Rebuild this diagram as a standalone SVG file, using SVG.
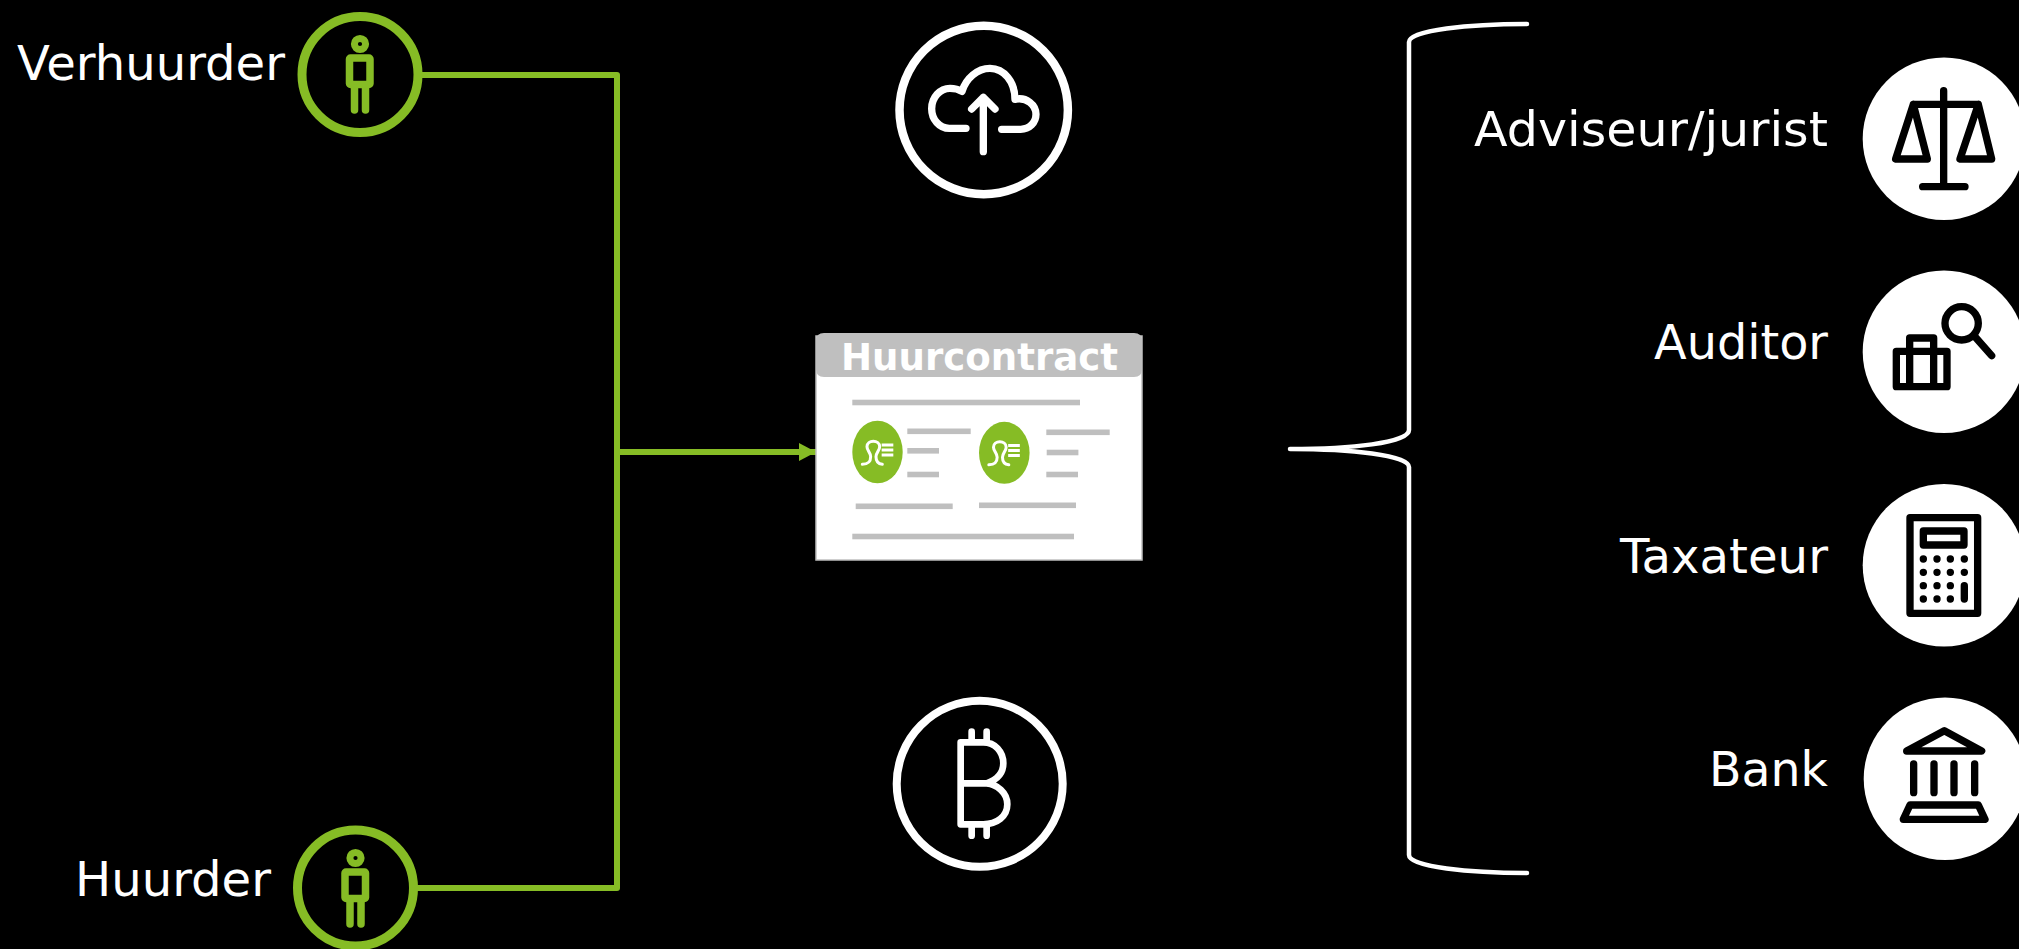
<svg xmlns="http://www.w3.org/2000/svg" width="2019" height="949" viewBox="0 0 2019 949">
<style>
text{font-family:"DejaVu Sans","Liberation Sans",sans-serif;fill:#fff;font-size:47.5px}
.g{fill:none;stroke:#86bc25;stroke-linecap:round;stroke-linejoin:round}
.w{fill:none;stroke:#fff;stroke-linecap:round;stroke-linejoin:round}
.k{fill:none;stroke:#000;stroke-width:22;stroke-linecap:round;stroke-linejoin:round}
.bar{fill:#bfbfbf}
</style>
<defs>
<marker id="arrow" markerUnits="userSpaceOnUse" markerWidth="17" markerHeight="18" refX="17" refY="9" orient="auto"><path d="M0 0L17 9L0 18z" fill="#86bc25"/></marker>
<g id="person">
<circle class="g" cx="360" cy="44" r="5.6" stroke-width="7"/>
<rect class="g" x="349.5" y="58" width="20.5" height="26.5" rx="1" stroke-width="7.5"/>
<path class="g" d="M354.5 88V110M365.5 88V110" stroke-width="7.5"/>
</g>
<g id="bust">
<path fill="none" stroke="#fff" stroke-width="9" stroke-linecap="round" d="M247 433C262 432 272 428 272 410C272 398 261 392 261 380C261 370 270 364 280 364C290 364 299 370 299 380C299 392 288 398 288 410C288 428 298 432 307 433"/>
<path fill="none" stroke="#fff" stroke-width="9" d="M305 375H340M305 390H340M305 405H340"/>
</g>
</defs>
<rect width="2019" height="949" fill="#000"/>
<g id="connectors">
<path class="g" stroke-width="6" d="M422 75H617V888H417"/>
<path stroke="#86bc25" stroke-width="6" fill="none" d="M617 452H816" marker-end="url(#arrow)"/>
<path class="w" stroke-width="4.5" d="M1527 24C1470 24 1409 30 1409 42V430C1409 443 1350 449 1290 449C1350 449 1409 455 1409 467V855C1409 867 1470 873 1527 873"/>
</g>
<g id="verhuurder">
<circle class="g" cx="360" cy="74.5" r="58" stroke-width="9"/>
<use href="#person"/>
<text x="17" y="80" textLength="268" lengthAdjust="spacingAndGlyphs">Verhuurder</text>
</g>
<g id="huurder">
<circle class="g" cx="355.5" cy="888" r="58" stroke-width="9"/>
<use href="#person" transform="translate(-4.5 814)"/>
<text x="75" y="896" textLength="196" lengthAdjust="spacingAndGlyphs">Huurder</text>
</g>
<g id="huurcontract">
<rect x="816" y="336" width="326" height="224" fill="#fff" stroke="#bfbfbf" stroke-width="1.5"/>
<path class="bar" d="M824 333H1134Q1142 333 1142 341V369Q1142 377 1134 377H824Q816 377 816 369V341Q816 333 824 333z"/>
<text x="841" y="370" font-weight="700" style="font-size:37.5px" textLength="277" lengthAdjust="spacingAndGlyphs">Huurcontract</text>
<rect class="bar" x="852.3" y="399.7" width="227.7" height="5.6"/>
<ellipse cx="877.5" cy="452" rx="25.2" ry="31.3" fill="#86bc25"/>
<ellipse cx="1004.3" cy="452.8" rx="25.3" ry="31" fill="#86bc25"/>
<g transform="translate(780 320) scale(.3333)"><use href="#bust"/></g>
<g transform="translate(906.5 320.5) scale(.3333)"><use href="#bust"/></g>
<rect class="bar" x="907.3" y="428.5" width="63.4" height="5.6"/>
<rect class="bar" x="907.3" y="448" width="31.7" height="5.6"/>
<rect class="bar" x="907.3" y="471.7" width="31.7" height="5.6"/>
<rect class="bar" x="1046.3" y="429.5" width="63.4" height="5.6"/>
<rect class="bar" x="1046.7" y="449.7" width="31.7" height="5.6"/>
<rect class="bar" x="1046.3" y="471.7" width="31.7" height="5.6"/>
<rect class="bar" x="855.7" y="503.5" width="97" height="5.6"/>
<rect class="bar" x="979" y="502.5" width="97" height="5.6"/>
<rect class="bar" x="852.3" y="533.7" width="221.7" height="5.6"/>
</g>
<g id="cloud">
<circle class="w" cx="983.7" cy="110" r="84.2" stroke-width="8.5"/>
<g transform="translate(880 10) scale(.3333)">
<path class="w" stroke-width="22" d="M258 355H208C178 355 155 328 155 296C155 262 180 235 210 235C225 235 236 238 246 244C258 205 292 175 330 175C372 175 405 215 405 268C440 260 468 285 468 313C468 338 448 358 422 358H365"/>
<path class="w" stroke-width="22" d="M310 425V262M275 297L310 262L345 297"/>
</g>
</g>
<g id="bitcoin">
<circle class="w" cx="979.7" cy="783.8" r="83" stroke-width="8"/>
<g transform="translate(880 685) scale(.3333)">
<path class="w" stroke-width="20" d="M242 172V418H310C350 418 382 395 382 358C382 322 350 298 320 295C350 285 370 265 370 235C370 200 345 172 310 172zM245 295H320M275 140V172M320 140V172M275 420V452M320 420V452"/>
</g>
</g>
<g id="adviseur">
<circle cx="1944" cy="138.7" r="81.3" fill="#fff"/>
<g transform="translate(1850 45) scale(.3333)"><path class="k" d="M281 137V425M218 425H345M190 178H385M190 178L137 342H232zM385 178L330 342H425z"/></g>
<text x="1474" y="146" textLength="354" lengthAdjust="spacingAndGlyphs">Adviseur/jurist</text>
</g>
<g id="auditor">
<circle cx="1944" cy="351.7" r="81.3" fill="#fff"/>
<g transform="translate(1850 260) scale(.3333)"><circle class="k" cx="335" cy="190" r="50"/><path class="k" d="M373 228L425 287M139 274H291V380H139zM179 380V234H251V380"/></g>
<text x="1654" y="359" textLength="174" lengthAdjust="spacingAndGlyphs">Auditor</text>
</g>
<g id="taxateur">
<circle cx="1944" cy="565.3" r="81.3" fill="#fff"/>
<g transform="translate(1850 475) scale(.3333)">
<rect class="k" x="180" y="128" width="203" height="287"/>
<rect class="k" x="220" y="168" width="122" height="42"/>
<path class="k" d="M220 252h.1M261 252h.1M301 252h.1M343 252h.1M220 292h.1M261 292h.1M301 292h.1M343 292h.1M220 332h.1M261 332h.1M301 332h.1M343 332V372M220 372h.1M261 372h.1M301 372h.1"/>
</g>
<text x="1620" y="573" textLength="208" lengthAdjust="spacingAndGlyphs">Taxateur</text>
</g>
<g id="bank">
<circle cx="1945" cy="778.7" r="81.3" fill="#fff"/>
<g transform="translate(1850 690) scale(.3333)"><path class="k" d="M170 183L283 122L395 183zM191 222V308M252 222V308M312 222V308M374 222V308M180 345H385L405 388H160z"/></g>
<text x="1709" y="786" textLength="119" lengthAdjust="spacingAndGlyphs">Bank</text>
</g>
</svg>
